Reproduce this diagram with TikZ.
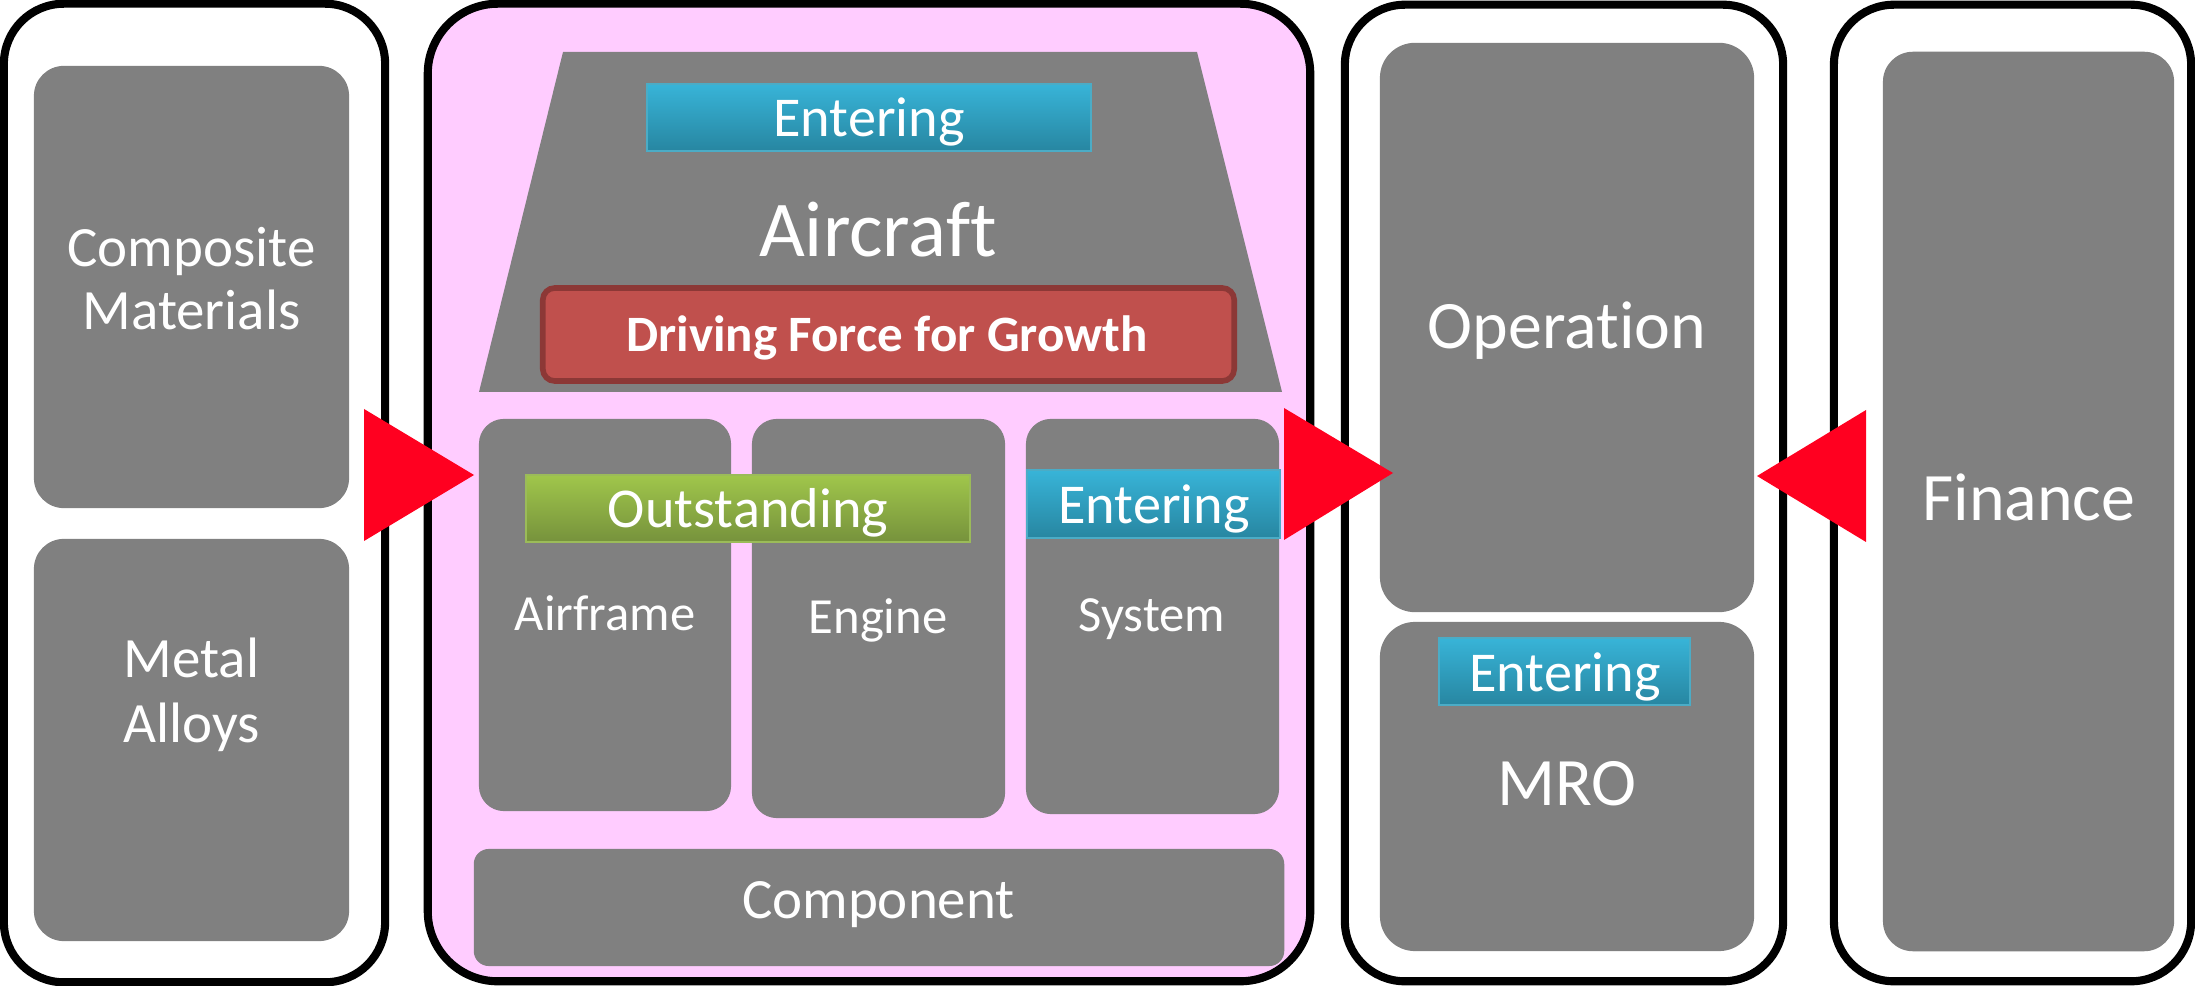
\documentclass[tikz,border=0pt]{standalone}
\usepackage{fontspec}
\setmainfont{Carlito}[Ligatures=NoCommon]
\definecolor{boxgray}{HTML}{808080}
\definecolor{pinkbg}{HTML}{FFCCFF}
\definecolor{arrowred}{HTML}{FF0020}
\definecolor{blueT}{HTML}{38B4D8}
\definecolor{blueB}{HTML}{2786A1}
\definecolor{blueE}{HTML}{4BACC6}
\definecolor{greenT}{HTML}{A0C64B}
\definecolor{greenB}{HTML}{76923C}
\definecolor{greenE}{HTML}{9BBB59}
\definecolor{driveF}{HTML}{C0504D}
\definecolor{driveE}{HTML}{8C3836}
\tikzset{
  outerbox/.style={draw=black, fill=white, line width=2.3pt, rounded corners=0.6cm, inner sep=0pt},
  graybox/.style={fill=boxgray, draw=none, inner sep=0pt, rounded corners=0.3cm},
  bluebadge/.style={top color=blueT, bottom color=blueB, draw=blueE, line width=0.6pt, inner sep=0pt},
  greenbadge/.style={top color=greenT, bottom color=greenB, draw=greenE, line width=0.6pt, inner sep=0pt},
  drivebox/.style={fill=driveF, draw=driveE, line width=1.6pt, rounded corners=0.12cm, inner sep=0pt},
  lbl/.style={text=white, inner sep=0pt, anchor=base},
  arrowhd/.style={fill=arrowred, draw=none}
}
\begin{document}
\begin{tikzpicture}[x=0.01cm,y=-0.01cm]
\useasboundingbox (0,0) rectangle (2195,986);
\fill[white] (0,0) rectangle (2195,986);
% outer boxes
\node[outerbox, minimum width=3.81cm, minimum height=9.78cm] (matbox) at (194.5,493) {};
\node[outerbox, fill=pinkbg, rounded corners=0.7cm, minimum width=8.82cm, minimum height=9.77cm] (acbox) at (869,492.5) {};
\node[outerbox, minimum width=4.38cm, minimum height=9.76cm] (opbox) at (1564,493) {};
\node[outerbox, minimum width=3.57cm, minimum height=9.76cm] (finbox) at (2012.5,493) {};
% materials
\node[graybox, minimum width=3.15cm, minimum height=4.42cm] (comp) at (191.5,287) {};
\node[graybox, minimum width=3.15cm, minimum height=4.02cm] (metal) at (191.5,740) {};
\node[lbl, font=\fontsize{16.2}{18}\selectfont] (tcomp1) at (191.5,267) {Composite};
\node[lbl, font=\fontsize{16.2}{18}\selectfont] (tcomp2) at (191.5,330) {Materials};
\node[lbl, font=\fontsize{16.2}{18}\selectfont] (tmetal1) at (191.5,678) {Metal};
\node[lbl, font=\fontsize{16.2}{18}\selectfont] (tmetal2) at (191.5,742) {Alloys};
% aircraft
\fill[boxgray] (479,392) -- (563,52) -- (1197,52) -- (1282,392) -- cycle;
\node[bluebadge, minimum width=4.44cm, minimum height=0.67cm] (entA) at (869,117.5) {};
\node[lbl, font=\fontsize{16}{18}\selectfont] (tentA) at (869,137) {Entering};
\node[lbl, font=\fontsize{22.5}{26}\selectfont] (taircraft) at (878,257) {Aircraft};
\node[drivebox, minimum width=6.91cm, minimum height=0.93cm] (drive) at (888.5,334.5) {};
\node[lbl, font=\fontsize{14.5}{17}\selectfont\bfseries] (tdrive) at (887,352) {Driving Force for Growth};
\node[graybox, rounded corners=0.25cm, minimum width=2.52cm, minimum height=3.92cm] (airframe) at (605,615) {};
\node[graybox, rounded corners=0.25cm, minimum width=2.53cm, minimum height=3.99cm] (engine) at (878.5,618.5) {};
\node[graybox, rounded corners=0.25cm, minimum width=2.53cm, minimum height=3.95cm] (system) at (1152.5,616.5) {};
\node[greenbadge, minimum width=4.44cm, minimum height=0.67cm] (outst) at (748,508.5) {};
\node[lbl, font=\fontsize{16}{18}\selectfont] (toutst) at (748,528) {Outstanding};
\node[bluebadge, minimum width=2.53cm, minimum height=0.68cm] (entB) at (1153.5,504) {};
\node[lbl, font=\fontsize{16}{18}\selectfont] (tentB) at (1154,524) {Entering};
\node[lbl, font=\fontsize{14.4}{17}\selectfont] (tairframe) at (605,631) {Airframe};
\node[lbl, font=\fontsize{14.4}{17}\selectfont] (tengine) at (878,634) {Engine};
\node[lbl, font=\fontsize{14.4}{17}\selectfont] (tsystem) at (1152,632) {System};
\node[graybox, rounded corners=0.15cm, minimum width=8.10cm, minimum height=1.17cm] (component) at (879,907.5) {};
\node[lbl, font=\fontsize{16.2}{18}\selectfont] (tcomponent) at (878.5,918) {Component};
% operation
\node[graybox, rounded corners=0.35cm, minimum width=3.74cm, minimum height=5.69cm] (operation) at (1567,327.5) {};
\node[graybox, rounded corners=0.35cm, minimum width=3.74cm, minimum height=3.29cm] (mro) at (1567,786.5) {};
\node[bluebadge, minimum width=2.51cm, minimum height=0.67cm] (entC) at (1564.5,671.5) {};
\node[lbl, font=\fontsize{16}{18}\selectfont] (tentC) at (1565,692) {Entering};
\node[lbl, font=\fontsize{19.3}{22}\selectfont] (toperation) at (1567,349) {Operation};
\node[lbl, font=\fontsize{19.3}{22}\selectfont] (tmro) at (1567,805) {MRO};
% finance
\node[graybox, rounded corners=0.3cm, minimum width=2.91cm, minimum height=8.99cm] (finance) at (2028.5,501.5) {};
\node[lbl, font=\fontsize{19.3}{22}\selectfont] (tfinance) at (2029,521) {Finance};
% arrows
\coordinate (a1t) at (364,409);
\coordinate (a1b) at (364,541);
\coordinate (a1p) at (474,475);
\coordinate (a2t) at (1284,408);
\coordinate (a2b) at (1284,540);
\coordinate (a2p) at (1393,473);
\coordinate (a3t) at (1866,410);
\coordinate (a3b) at (1866,542);
\coordinate (a3p) at (1757,476);
\fill[arrowhd] (a1t) -- (a1p) -- (a1b) -- cycle;
\fill[arrowhd] (a2t) -- (a2p) -- (a2b) -- cycle;
\fill[arrowhd] (a3t) -- (a3p) -- (a3b) -- cycle;
\end{tikzpicture}
\end{document}
